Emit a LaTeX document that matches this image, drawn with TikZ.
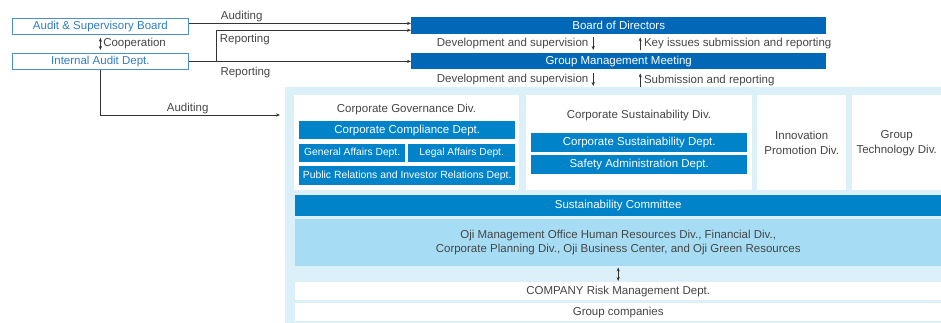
\documentclass[tikz,border=0pt]{standalone}
\usepackage{fontspec}
\setmainfont{Liberation Sans}
\usepackage{xcolor}
\usepackage{tikz}
\usetikzlibrary{arrows.meta}

\definecolor{boardblue}{HTML}{0068B7}
\definecolor{deptblue}{HTML}{0083C9}
\definecolor{paleblue}{HTML}{DCF0FA}
\definecolor{ojiblue}{HTML}{A7DDF4}
\definecolor{auditblue}{HTML}{2F7EC1}
\definecolor{linegray}{HTML}{333333}
\definecolor{textgray}{HTML}{454545}

\begin{document}
\begin{tikzpicture}[x=1pt, y=-1pt,
		font=\fontsize{11.5}{13.5}\selectfont,
		blk/.style 2 args={rectangle, inner sep=0pt, anchor=north west, minimum width=#1, minimum height=#2},
		auditbox/.style={draw=auditblue!85, line width=0.8pt, fill=white, text=auditblue},
		headbox/.style={fill=boardblue, text=white},
		deptbox/.style={fill=deptblue, text=white},
		divbox/.style={fill=white, text=textgray, align=center},
		lbl/.style={text=textgray, inner sep=2.5pt},
		arr/.style={-{Stealth[length=4pt,width=3.2pt]}, draw=linegray, line width=0.7pt},
		twoway/.style={{Stealth[length=4pt,width=3.2pt]}-{Stealth[length=4pt,width=3.2pt]}, draw=linegray, line width=0.7pt}]
		\useasboundingbox (0,0) rectangle (941,323);
		
		% Audit side
		\node[blk={176}{16}, auditbox] (asb) at (12,18) {Audit \& Supervisory Board};
		\node[blk={176}{16}, auditbox] (iad) at (12,53) {Internal Audit Dept.};
		\draw[twoway] ([yshift=-3pt]asb.south) -- ([yshift=3pt]iad.north) node[midway, right, lbl] {Cooperation};
		
		% Top management
		\node[blk={415}{17}, headbox] (bod) at (411,17) {Board of Directors};
		\node[blk={415}{16}, headbox] (gmm) at (411,53) {Group Management Meeting};
		
		% Background of the divisions
		\node[blk={656}{236}, fill=paleblue] (divs) at (285,87) {};
		
		% Corporate Governance Div.
		\node[blk={225}{95}, divbox] (cgd) at (294,95) {};
		\node[lbl] (cgdtitle) at (406.5,110) {Corporate Governance Div.};
		\node[blk={216}{18}, deptbox] (ccd) at (299,121) {Corporate Compliance Dept.};
		\node[blk={106}{18}, deptbox, font=\fontsize{10.3}{12}\selectfont] (gad) at (299,144) {General Affairs Dept.};
		\node[blk={107}{18}, deptbox, font=\fontsize{10.3}{12}\selectfont] (lad) at (408,144) {Legal Affairs Dept.};
		\node[blk={216}{19}, deptbox, font=\fontsize{10.4}{12}\selectfont] (prd) at (299,166) {Public Relations and Investor Relations Dept.};
		
		% Corporate Sustainability Div.
		\node[blk={226}{95}, divbox] (csd) at (526,95) {};
		\node[lbl] (csdtitle) at (639,116) {Corporate Sustainability Div.};
		\node[blk={216}{19}, deptbox] (csdept) at (531,133) {Corporate Sustainability Dept.};
		\node[blk={216}{19}, deptbox] (sad) at (531,155) {Safety Administration Dept.};
		
		% Other divisions
		\node[blk={89}{95}, divbox, font=\fontsize{11.5}{15}\selectfont] (ipd) at (757,95) {Innovation\\Promotion Div.};
		\node[blk={89}{95}, divbox, font=\fontsize{11.5}{15}\selectfont] (gtd) at (852,95) {Group\\Technology Div.};
		
		% Committee and group rows
		\node[blk={646}{21}, deptbox] (sc) at (295,195) {Sustainability Committee};
		\node[blk={646}{47}, fill=ojiblue, text=textgray, align=center] (oji) at (295,219) {Oji Management Office Human Resources Div., Financial Div.,\\Corporate Planning Div., Oji Business Center, and Oji Green Resources};
		\node[blk={646}{18}, divbox] (crm) at (295,282) {COMPANY Risk Management Dept.};
		\node[blk={646}{18}, divbox] (gco) at (295,303) {Group companies};
		\draw[twoway] ([yshift=-1pt]oji.south) -- ([yshift=1pt]crm.north);
		
		% Auditing and reporting lines
		\draw[arr] ([yshift=3pt]asb.east) -- ([yshift=3pt]asb.east -| bod.west) node[pos=0.238, above, lbl, inner sep=1pt] {Auditing};
		\draw[arr] (iad.east) -- (iad.east -| gmm.west) node[pos=0.255, below, lbl, yshift=-3pt] {Reporting};
		\coordinate (split) at (216,61);
		\draw[arr] (split) |- ([yshift=-4.5pt]bod.west) node[pos=0.574, below, lbl, yshift=-1pt] {Reporting};
		\coordinate (auditend) at (280,115);
		\draw[arr] (iad.south) |- (auditend) node[pos=0.743, above, lbl, inner sep=1pt] {Auditing};
		
		% Between the boards and the divisions
		\draw[arr] ([xshift=-25.5pt, yshift=-3pt]bod.south) -- ([xshift=-25.5pt, yshift=3pt]gmm.north) node[midway, left, lbl, xshift=-2pt] {Development and supervision};
		\draw[arr] ([xshift=21.5pt, yshift=3pt]gmm.north) -- ([xshift=21.5pt, yshift=-3pt]bod.south) node[midway, right, lbl, xshift=1pt] {Key issues submission and reporting};
		\draw[arr] ([xshift=-25.5pt, yshift=-4pt]gmm.south) -- ([xshift=-25.5pt, yshift=1pt]gmm.south |- divs.north) node[midway, left, lbl, xshift=-2pt] {Development and supervision};
		\draw[arr] ([xshift=21.5pt]gmm.south |- divs.north) -- ([xshift=21.5pt, yshift=-4pt]gmm.south) node[midway, right, lbl, xshift=1pt] {Submission and reporting};
	\end{tikzpicture}
\end{document}
